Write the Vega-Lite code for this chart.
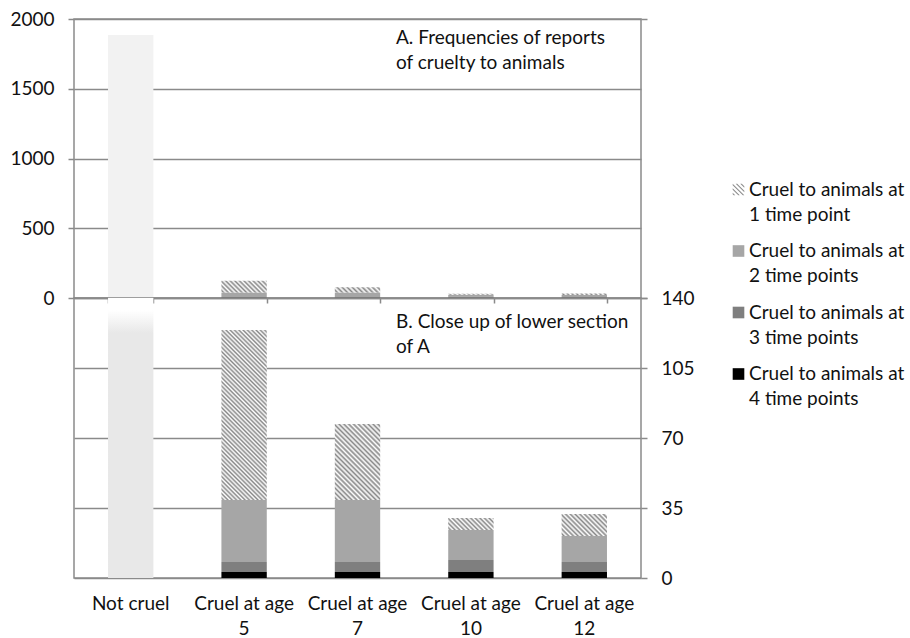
{
  "$schema": "https://vega.github.io/schema/vega-lite/v6.json",
  "background": "white",
  "padding": {"left": 9, "top": 9, "right": 0, "bottom": 0},
  "spacing": 0,
  "bounds": "flush",
  "config": {
    "font": "Lato",
    "view": {"stroke": "#8a8a8a", "strokeWidth": 1.5},
    "style": {"guide-label": {"lineHeight": 25}},
    "axis": {"labelFont": "Lato", "labelFontSize": 19, "labelColor": "#111111", "gridColor": "#8a8a8a", "gridWidth": 1.5, "gridOpacity": 1, "tickColor": "#8a8a8a", "tickWidth": 1.5, "domain": false, "title": null},
    "legend": {"labelFont": "Lato", "labelFontSize": 19, "labelColor": "#111111"}
  },
  "datasets": {
    "notcruel": [{"cat": "Not cruel", "n": 1885}],
    "cruel": [
      {"cat": "Cruel at age 5", "series": "Cruel to animals at 1 time point", "n": 85},
      {"cat": "Cruel at age 5", "series": "Cruel to animals at 2 time points", "n": 31},
      {"cat": "Cruel at age 5", "series": "Cruel to animals at 3 time points", "n": 5},
      {"cat": "Cruel at age 5", "series": "Cruel to animals at 4 time points", "n": 3},
      {"cat": "Cruel at age 7", "series": "Cruel to animals at 1 time point", "n": 38},
      {"cat": "Cruel at age 7", "series": "Cruel to animals at 2 time points", "n": 31},
      {"cat": "Cruel at age 7", "series": "Cruel to animals at 3 time points", "n": 5},
      {"cat": "Cruel at age 7", "series": "Cruel to animals at 4 time points", "n": 3},
      {"cat": "Cruel at age 10", "series": "Cruel to animals at 1 time point", "n": 6},
      {"cat": "Cruel at age 10", "series": "Cruel to animals at 2 time points", "n": 15},
      {"cat": "Cruel at age 10", "series": "Cruel to animals at 3 time points", "n": 6},
      {"cat": "Cruel at age 10", "series": "Cruel to animals at 4 time points", "n": 3},
      {"cat": "Cruel at age 12", "series": "Cruel to animals at 1 time point", "n": 11},
      {"cat": "Cruel at age 12", "series": "Cruel to animals at 2 time points", "n": 13},
      {"cat": "Cruel at age 12", "series": "Cruel to animals at 3 time points", "n": 5},
      {"cat": "Cruel at age 12", "series": "Cruel to animals at 4 time points", "n": 3}
    ]
  },
  "resolve": {"scale": {"fill": "independent"}, "legend": {"fill": "independent"}},
  "vconcat": [
    {
      "width": 567,
      "height": 279,
      "resolve": {"scale": {"y": "independent"}},
      "layer": [
        {
          "data": {"name": "notcruel"},
          "mark": {"type": "bar", "fill": "#f2f2f2"},
          "encoding": {
            "x": {"field": "cat", "type": "nominal", "scale": {"domain": ["Not cruel", "Cruel at age 5", "Cruel at age 7", "Cruel at age 10", "Cruel at age 12"], "paddingInner": 0.6, "paddingOuter": 0.3}, "axis": {"labels": false, "ticks": true, "tickBand": "extent", "tickSize": 5, "domain": false, "grid": false}},
            "y": {"field": "n", "type": "quantitative", "scale": {"domain": [0, 2000], "nice": false}, "axis": {"orient": "left", "values": [0, 500, 1000, 1500, 2000], "format": "d", "grid": true, "tickSize": 6, "labelPadding": 14}}
          }
        },
        {
          "data": {"name": "cruel"},
          "transform": [
            {"stack": "n", "groupby": ["cat"], "sort": [{"field": "series", "order": "descending"}], "as": ["y0", "y1"]},
            {"filter": "datum.series != 'Cruel to animals at 1 time point'"}
          ],
          "mark": {"type": "bar"},
          "encoding": {
            "x": {"field": "cat", "type": "nominal", "scale": {"domain": ["Not cruel", "Cruel at age 5", "Cruel at age 7", "Cruel at age 10", "Cruel at age 12"], "paddingInner": 0.6, "paddingOuter": 0.3}},
            "y": {"field": "y1", "type": "quantitative", "scale": {"domain": [0, 2000], "nice": false}, "axis": {"orient": "right", "values": [0, 2000], "labels": false, "grid": false, "tickSize": 6}},
            "y2": {"field": "y0"},
            "fill": {
              "field": "series",
              "type": "nominal",
              "scale": {
                "domain": ["Cruel to animals at 1 time point", "Cruel to animals at 2 time points", "Cruel to animals at 3 time points", "Cruel to animals at 4 time points"],
                "range": ["#8c8c8c", "#a6a6a6", "#7f7f7f", "#000000"]
              },
              "legend": {
                "orient": "none", "legendX": 655, "legendY": 161, "title": null,
                "symbolType": {"expr": "datum.value == 'Cruel to animals at 1 time point' ? 'M-1,-1L1,1L0.74,1L-1,-0.74Z M-1,-0.22L0.22,1L-0.04,1L-1,0.04Z M-1,0.56L-0.56,1L-0.82,1L-1,0.82Z M-0.22,-1L1,0.22L1,0.48L-0.48,-1Z M0.56,-1L1,-0.56L1,-0.3L0.3,-1Z' : 'square'"},
                "symbolSize": 135, "symbolStrokeWidth": 0, "symbolOpacity": 1,
                "labelExpr": "['Cruel to animals at', slice(datum.label, 20)]",
                "rowPadding": 16.5, "padding": 0, "labelOffset": 1, "labelLimit": 300
              }
            }
          }
        },
        {
          "data": {"name": "cruel"},
          "transform": [
            {"stack": "n", "groupby": ["cat"], "sort": [{"field": "series", "order": "descending"}], "as": ["y0", "y1"]},
            {"filter": "datum.series == 'Cruel to animals at 1 time point' && datum.cat == 'Cruel at age 5'"}
          ],
          "mark": {"type": "bar", "fill": {"gradient": "linear", "x1": 0, "y1": 1, "x2": 1.1808, "y2": 0.6913, "stops": [{"offset":0,"color":"#fff"},{"offset":0.04,"color":"#888"},{"offset":0.08,"color":"#fff"},{"offset":0.12,"color":"#888"},{"offset":0.16,"color":"#fff"},{"offset":0.2,"color":"#888"},{"offset":0.24,"color":"#fff"},{"offset":0.28,"color":"#888"},{"offset":0.32,"color":"#fff"},{"offset":0.36,"color":"#888"},{"offset":0.4,"color":"#fff"},{"offset":0.44,"color":"#888"},{"offset":0.48,"color":"#fff"},{"offset":0.52,"color":"#888"},{"offset":0.56,"color":"#fff"},{"offset":0.6,"color":"#888"},{"offset":0.64,"color":"#fff"},{"offset":0.68,"color":"#888"},{"offset":0.72,"color":"#fff"},{"offset":0.76,"color":"#888"},{"offset":0.8,"color":"#fff"},{"offset":0.84,"color":"#888"},{"offset":0.88,"color":"#fff"},{"offset":0.92,"color":"#888"},{"offset":0.96,"color":"#fff"},{"offset":1,"color":"#888"}]}},
          "encoding": {
            "x": {"field": "cat", "type": "nominal", "scale": {"domain": ["Not cruel", "Cruel at age 5", "Cruel at age 7", "Cruel at age 10", "Cruel at age 12"], "paddingInner": 0.6, "paddingOuter": 0.3}},
            "y": {"field": "y1", "type": "quantitative", "scale": {"domain": [0, 2000], "nice": false}, "axis": null},
            "y2": {"field": "y0"}
          }
        },
        {
          "data": {"name": "cruel"},
          "transform": [
            {"stack": "n", "groupby": ["cat"], "sort": [{"field": "series", "order": "descending"}], "as": ["y0", "y1"]},
            {"filter": "datum.series == 'Cruel to animals at 1 time point' && datum.cat == 'Cruel at age 7'"}
          ],
          "mark": {"type": "bar", "fill": {"gradient": "linear", "x1": 0, "y1": 1, "x2": 1.1018, "y2": 0.8713, "stops": [{"offset":0,"color":"#fff"},{"offset":0.05,"color":"#888"},{"offset":0.1,"color":"#fff"},{"offset":0.15,"color":"#888"},{"offset":0.2,"color":"#fff"},{"offset":0.25,"color":"#888"},{"offset":0.3,"color":"#fff"},{"offset":0.35,"color":"#888"},{"offset":0.4,"color":"#fff"},{"offset":0.45,"color":"#888"},{"offset":0.5,"color":"#fff"},{"offset":0.55,"color":"#888"},{"offset":0.6,"color":"#fff"},{"offset":0.65,"color":"#888"},{"offset":0.7,"color":"#fff"},{"offset":0.75,"color":"#888"},{"offset":0.8,"color":"#fff"},{"offset":0.85,"color":"#888"},{"offset":0.9,"color":"#fff"},{"offset":0.95,"color":"#888"},{"offset":1,"color":"#fff"}]}},
          "encoding": {
            "x": {"field": "cat", "type": "nominal", "scale": {"domain": ["Not cruel", "Cruel at age 5", "Cruel at age 7", "Cruel at age 10", "Cruel at age 12"], "paddingInner": 0.6, "paddingOuter": 0.3}},
            "y": {"field": "y1", "type": "quantitative", "scale": {"domain": [0, 2000], "nice": false}, "axis": null},
            "y2": {"field": "y0"}
          }
        },
        {
          "data": {"name": "cruel"},
          "transform": [
            {"stack": "n", "groupby": ["cat"], "sort": [{"field": "series", "order": "descending"}], "as": ["y0", "y1"]},
            {"filter": "datum.series == 'Cruel to animals at 1 time point' && (datum.cat == 'Cruel at age 10' || datum.cat == 'Cruel at age 12')"}
          ],
          "mark": {"type": "bar", "fill": {"gradient": "linear", "x1": 0, "y1": 1, "x2": 1.025, "y2": 0.973, "stops": [{"offset":0,"color":"#fff"},{"offset":0.05,"color":"#888"},{"offset":0.1,"color":"#fff"},{"offset":0.15,"color":"#888"},{"offset":0.2,"color":"#fff"},{"offset":0.25,"color":"#888"},{"offset":0.3,"color":"#fff"},{"offset":0.35,"color":"#888"},{"offset":0.4,"color":"#fff"},{"offset":0.45,"color":"#888"},{"offset":0.5,"color":"#fff"},{"offset":0.55,"color":"#888"},{"offset":0.6,"color":"#fff"},{"offset":0.65,"color":"#888"},{"offset":0.7,"color":"#fff"},{"offset":0.75,"color":"#888"},{"offset":0.8,"color":"#fff"},{"offset":0.85,"color":"#888"},{"offset":0.9,"color":"#fff"},{"offset":0.95,"color":"#888"},{"offset":1,"color":"#fff"}]}},
          "encoding": {
            "x": {"field": "cat", "type": "nominal", "scale": {"domain": ["Not cruel", "Cruel at age 5", "Cruel at age 7", "Cruel at age 10", "Cruel at age 12"], "paddingInner": 0.6, "paddingOuter": 0.3}},
            "y": {"field": "y1", "type": "quantitative", "scale": {"domain": [0, 2000], "nice": false}, "axis": null},
            "y2": {"field": "y0"}
          }
        },
        {
          "data": {"values": [{}]},
          "mark": {"type": "text", "text": ["A. Frequencies of reports", "\u00a0of cruelty to animals"], "align": "left", "baseline": "middle", "lineHeight": 25, "fontSize": 19, "font": "Lato", "color": "#111111", "dx": 38.5},
          "encoding": {
            "x": {"datum": "Cruel at age 7", "type": "nominal", "scale": {"domain": ["Not cruel", "Cruel at age 5", "Cruel at age 7", "Cruel at age 10", "Cruel at age 12"], "paddingInner": 0.6, "paddingOuter": 0.3}},
            "y": {"datum": 1864, "type": "quantitative", "scale": {"domain": [0, 2000], "nice": false}, "axis": null}
          }
        }
      ]
    },
    {
      "width": 567,
      "height": 280,
      "layer": [
        {
          "data": {"name": "notcruel"},
          "mark": {"type": "bar", "clip": true, "fill": {"gradient": "linear", "x1": 0, "y1": 0, "x2": 0, "y2": 1, "stops": [{"offset": 0, "color": "#ffffff"}, {"offset": 0.929, "color": "#ffffff"}, {"offset": 0.935, "color": "#e8e8e8"}, {"offset": 1, "color": "#e8e8e8"}]}},
          "encoding": {
            "x": {"field": "cat", "type": "nominal", "scale": {"domain": ["Not cruel", "Cruel at age 5", "Cruel at age 7", "Cruel at age 10", "Cruel at age 12"], "paddingInner": 0.6, "paddingOuter": 0.3}, "axis": {"labelAngle": 0, "ticks": false, "tickSize": 0, "labelPadding": 16, "labelOverlap": false, "labelLineHeight": 25, "grid": false, "labelExpr": "datum.label == 'Not cruel' ? datum.label : ['Cruel at age', slice(datum.label, 13)]"}},
            "y": {"field": "n", "type": "quantitative", "scale": {"domain": [0, 140], "nice": false}, "axis": {"orient": "right", "values": [0, 35, 70, 105, 140], "format": "d", "grid": true, "tickSize": 6, "labelPadding": 14}}
          }
        },
        {
          "data": {"name": "cruel"},
          "transform": [
            {"stack": "n", "groupby": ["cat"], "sort": [{"field": "series", "order": "descending"}], "as": ["y0", "y1"]},
            {"filter": "datum.series != 'Cruel to animals at 1 time point'"}
          ],
          "mark": {"type": "bar"},
          "encoding": {
            "x": {"field": "cat", "type": "nominal", "scale": {"domain": ["Not cruel", "Cruel at age 5", "Cruel at age 7", "Cruel at age 10", "Cruel at age 12"], "paddingInner": 0.6, "paddingOuter": 0.3}},
            "y": {"field": "y1", "type": "quantitative", "scale": {"domain": [0, 140], "nice": false}},
            "y2": {"field": "y0"},
            "fill": {"field": "series", "type": "nominal", "legend": null, "scale": {"domain": ["Cruel to animals at 2 time points", "Cruel to animals at 3 time points", "Cruel to animals at 4 time points"], "range": ["#a6a6a6", "#7f7f7f", "#000000"]}}
          }
        },
        {
          "data": {"name": "cruel"},
          "transform": [
            {"stack": "n", "groupby": ["cat"], "sort": [{"field": "series", "order": "descending"}], "as": ["y0", "y1"]},
            {"filter": "datum.series == 'Cruel to animals at 1 time point' && datum.cat == 'Cruel at age 5'"}
          ],
          "mark": {"type": "bar", "fill": {"gradient": "linear", "x1": 0, "y1": 1, "x2": 0.3156, "y2": -0.1826, "stops": [{"offset":0,"color":"#fff"},{"offset":0.01,"color":"#888"},{"offset":0.02,"color":"#fff"},{"offset":0.03,"color":"#888"},{"offset":0.04,"color":"#fff"},{"offset":0.05,"color":"#888"},{"offset":0.06,"color":"#fff"},{"offset":0.07,"color":"#888"},{"offset":0.08,"color":"#fff"},{"offset":0.09,"color":"#888"},{"offset":0.1,"color":"#fff"},{"offset":0.11,"color":"#888"},{"offset":0.12,"color":"#fff"},{"offset":0.13,"color":"#888"},{"offset":0.14,"color":"#fff"},{"offset":0.15,"color":"#888"},{"offset":0.16,"color":"#fff"},{"offset":0.17,"color":"#888"},{"offset":0.18,"color":"#fff"},{"offset":0.19,"color":"#888"},{"offset":0.2,"color":"#fff"},{"offset":0.21,"color":"#888"},{"offset":0.22,"color":"#fff"},{"offset":0.23,"color":"#888"},{"offset":0.24,"color":"#fff"},{"offset":0.25,"color":"#888"},{"offset":0.26,"color":"#fff"},{"offset":0.27,"color":"#888"},{"offset":0.28,"color":"#fff"},{"offset":0.29,"color":"#888"},{"offset":0.3,"color":"#fff"},{"offset":0.31,"color":"#888"},{"offset":0.32,"color":"#fff"},{"offset":0.33,"color":"#888"},{"offset":0.34,"color":"#fff"},{"offset":0.35,"color":"#888"},{"offset":0.36,"color":"#fff"},{"offset":0.37,"color":"#888"},{"offset":0.38,"color":"#fff"},{"offset":0.39,"color":"#888"},{"offset":0.4,"color":"#fff"},{"offset":0.41,"color":"#888"},{"offset":0.42,"color":"#fff"},{"offset":0.43,"color":"#888"},{"offset":0.44,"color":"#fff"},{"offset":0.45,"color":"#888"},{"offset":0.46,"color":"#fff"},{"offset":0.47,"color":"#888"},{"offset":0.48,"color":"#fff"},{"offset":0.49,"color":"#888"},{"offset":0.5,"color":"#fff"},{"offset":0.51,"color":"#888"},{"offset":0.52,"color":"#fff"},{"offset":0.53,"color":"#888"},{"offset":0.54,"color":"#fff"},{"offset":0.55,"color":"#888"},{"offset":0.56,"color":"#fff"},{"offset":0.57,"color":"#888"},{"offset":0.58,"color":"#fff"},{"offset":0.59,"color":"#888"},{"offset":0.6,"color":"#fff"},{"offset":0.61,"color":"#888"},{"offset":0.62,"color":"#fff"},{"offset":0.63,"color":"#888"},{"offset":0.64,"color":"#fff"},{"offset":0.65,"color":"#888"},{"offset":0.66,"color":"#fff"},{"offset":0.67,"color":"#888"},{"offset":0.68,"color":"#fff"},{"offset":0.69,"color":"#888"},{"offset":0.7,"color":"#fff"},{"offset":0.71,"color":"#888"},{"offset":0.72,"color":"#fff"},{"offset":0.73,"color":"#888"},{"offset":0.74,"color":"#fff"},{"offset":0.75,"color":"#888"},{"offset":0.76,"color":"#fff"},{"offset":0.77,"color":"#888"},{"offset":0.78,"color":"#fff"},{"offset":0.79,"color":"#888"},{"offset":0.8,"color":"#fff"},{"offset":0.81,"color":"#888"},{"offset":0.82,"color":"#fff"},{"offset":0.83,"color":"#888"},{"offset":0.84,"color":"#fff"},{"offset":0.85,"color":"#888"},{"offset":0.86,"color":"#fff"},{"offset":0.87,"color":"#888"},{"offset":0.88,"color":"#fff"},{"offset":0.89,"color":"#888"},{"offset":0.9,"color":"#fff"},{"offset":0.91,"color":"#888"},{"offset":0.92,"color":"#fff"},{"offset":0.93,"color":"#888"},{"offset":0.94,"color":"#fff"},{"offset":0.95,"color":"#888"},{"offset":0.96,"color":"#fff"},{"offset":0.97,"color":"#888"},{"offset":0.98,"color":"#fff"},{"offset":0.99,"color":"#888"},{"offset":1,"color":"#fff"}]}},
          "encoding": {
            "x": {"field": "cat", "type": "nominal", "scale": {"domain": ["Not cruel", "Cruel at age 5", "Cruel at age 7", "Cruel at age 10", "Cruel at age 12"], "paddingInner": 0.6, "paddingOuter": 0.3}},
            "y": {"field": "y1", "type": "quantitative", "scale": {"domain": [0, 140], "nice": false}},
            "y2": {"field": "y0"}
          }
        },
        {
          "data": {"name": "cruel"},
          "transform": [
            {"stack": "n", "groupby": ["cat"], "sort": [{"field": "series", "order": "descending"}], "as": ["y0", "y1"]},
            {"filter": "datum.series == 'Cruel to animals at 1 time point' && datum.cat == 'Cruel at age 7'"}
          ],
          "mark": {"type": "bar", "fill": {"gradient": "linear", "x1": 0, "y1": 1, "x2": 0.7027, "y2": -0.1774, "stops": [{"offset":0,"color":"#fff"},{"offset":0.02,"color":"#888"},{"offset":0.04,"color":"#fff"},{"offset":0.06,"color":"#888"},{"offset":0.08,"color":"#fff"},{"offset":0.1,"color":"#888"},{"offset":0.12,"color":"#fff"},{"offset":0.14,"color":"#888"},{"offset":0.16,"color":"#fff"},{"offset":0.18,"color":"#888"},{"offset":0.2,"color":"#fff"},{"offset":0.22,"color":"#888"},{"offset":0.24,"color":"#fff"},{"offset":0.26,"color":"#888"},{"offset":0.28,"color":"#fff"},{"offset":0.3,"color":"#888"},{"offset":0.32,"color":"#fff"},{"offset":0.34,"color":"#888"},{"offset":0.36,"color":"#fff"},{"offset":0.38,"color":"#888"},{"offset":0.4,"color":"#fff"},{"offset":0.42,"color":"#888"},{"offset":0.44,"color":"#fff"},{"offset":0.46,"color":"#888"},{"offset":0.48,"color":"#fff"},{"offset":0.5,"color":"#888"},{"offset":0.52,"color":"#fff"},{"offset":0.54,"color":"#888"},{"offset":0.56,"color":"#fff"},{"offset":0.58,"color":"#888"},{"offset":0.6,"color":"#fff"},{"offset":0.62,"color":"#888"},{"offset":0.64,"color":"#fff"},{"offset":0.66,"color":"#888"},{"offset":0.68,"color":"#fff"},{"offset":0.7,"color":"#888"},{"offset":0.72,"color":"#fff"},{"offset":0.74,"color":"#888"},{"offset":0.76,"color":"#fff"},{"offset":0.78,"color":"#888"},{"offset":0.8,"color":"#fff"},{"offset":0.82,"color":"#888"},{"offset":0.84,"color":"#fff"},{"offset":0.86,"color":"#888"},{"offset":0.88,"color":"#fff"},{"offset":0.9,"color":"#888"},{"offset":0.92,"color":"#fff"},{"offset":0.94,"color":"#888"},{"offset":0.96,"color":"#fff"},{"offset":0.98,"color":"#888"},{"offset":1,"color":"#fff"}]}},
          "encoding": {
            "x": {"field": "cat", "type": "nominal", "scale": {"domain": ["Not cruel", "Cruel at age 5", "Cruel at age 7", "Cruel at age 10", "Cruel at age 12"], "paddingInner": 0.6, "paddingOuter": 0.3}},
            "y": {"field": "y1", "type": "quantitative", "scale": {"domain": [0, 140], "nice": false}},
            "y2": {"field": "y0"}
          }
        },
        {
          "data": {"name": "cruel"},
          "transform": [
            {"stack": "n", "groupby": ["cat"], "sort": [{"field": "series", "order": "descending"}], "as": ["y0", "y1"]},
            {"filter": "datum.series == 'Cruel to animals at 1 time point' && datum.cat == 'Cruel at age 10'"}
          ],
          "mark": {"type": "bar", "fill": {"gradient": "linear", "x1": 0, "y1": 1, "x2": 1.1819, "y2": 0.6873, "stops": [{"offset":0,"color":"#fff"},{"offset":0.04,"color":"#888"},{"offset":0.08,"color":"#fff"},{"offset":0.12,"color":"#888"},{"offset":0.16,"color":"#fff"},{"offset":0.2,"color":"#888"},{"offset":0.24,"color":"#fff"},{"offset":0.28,"color":"#888"},{"offset":0.32,"color":"#fff"},{"offset":0.36,"color":"#888"},{"offset":0.4,"color":"#fff"},{"offset":0.44,"color":"#888"},{"offset":0.48,"color":"#fff"},{"offset":0.52,"color":"#888"},{"offset":0.56,"color":"#fff"},{"offset":0.6,"color":"#888"},{"offset":0.64,"color":"#fff"},{"offset":0.68,"color":"#888"},{"offset":0.72,"color":"#fff"},{"offset":0.76,"color":"#888"},{"offset":0.8,"color":"#fff"},{"offset":0.84,"color":"#888"},{"offset":0.88,"color":"#fff"},{"offset":0.92,"color":"#888"},{"offset":0.96,"color":"#fff"},{"offset":1,"color":"#888"}]}},
          "encoding": {
            "x": {"field": "cat", "type": "nominal", "scale": {"domain": ["Not cruel", "Cruel at age 5", "Cruel at age 7", "Cruel at age 10", "Cruel at age 12"], "paddingInner": 0.6, "paddingOuter": 0.3}},
            "y": {"field": "y1", "type": "quantitative", "scale": {"domain": [0, 140], "nice": false}},
            "y2": {"field": "y0"}
          }
        },
        {
          "data": {"name": "cruel"},
          "transform": [
            {"stack": "n", "groupby": ["cat"], "sort": [{"field": "series", "order": "descending"}], "as": ["y0", "y1"]},
            {"filter": "datum.series == 'Cruel to animals at 1 time point' && datum.cat == 'Cruel at age 12'"}
          ],
          "mark": {"type": "bar", "fill": {"gradient": "linear", "x1": 0, "y1": 1, "x2": 1.2022, "y2": 0.4169, "stops": [{"offset":0,"color":"#fff"},{"offset":0.035,"color":"#888"},{"offset":0.07,"color":"#fff"},{"offset":0.105,"color":"#888"},{"offset":0.14,"color":"#fff"},{"offset":0.175,"color":"#888"},{"offset":0.21,"color":"#fff"},{"offset":0.245,"color":"#888"},{"offset":0.28,"color":"#fff"},{"offset":0.315,"color":"#888"},{"offset":0.35,"color":"#fff"},{"offset":0.385,"color":"#888"},{"offset":0.42,"color":"#fff"},{"offset":0.455,"color":"#888"},{"offset":0.49,"color":"#fff"},{"offset":0.525,"color":"#888"},{"offset":0.56,"color":"#fff"},{"offset":0.595,"color":"#888"},{"offset":0.63,"color":"#fff"},{"offset":0.665,"color":"#888"},{"offset":0.7,"color":"#fff"},{"offset":0.735,"color":"#888"},{"offset":0.77,"color":"#fff"},{"offset":0.805,"color":"#888"},{"offset":0.84,"color":"#fff"},{"offset":0.875,"color":"#888"},{"offset":0.91,"color":"#fff"},{"offset":0.945,"color":"#888"},{"offset":0.98,"color":"#fff"}]}},
          "encoding": {
            "x": {"field": "cat", "type": "nominal", "scale": {"domain": ["Not cruel", "Cruel at age 5", "Cruel at age 7", "Cruel at age 10", "Cruel at age 12"], "paddingInner": 0.6, "paddingOuter": 0.3}},
            "y": {"field": "y1", "type": "quantitative", "scale": {"domain": [0, 140], "nice": false}},
            "y2": {"field": "y0"}
          }
        },
        {
          "data": {"values": [{}]},
          "mark": {"type": "text", "text": ["B. Close up of lower section", "\u00a0of A"], "align": "left", "baseline": "middle", "lineHeight": 25, "fontSize": 19, "font": "Lato", "color": "#111111", "dx": 38.5},
          "encoding": {
            "x": {"datum": "Cruel at age 7", "type": "nominal", "scale": {"domain": ["Not cruel", "Cruel at age 5", "Cruel at age 7", "Cruel at age 10", "Cruel at age 12"], "paddingInner": 0.6, "paddingOuter": 0.3}},
            "y": {"datum": 128, "type": "quantitative", "scale": {"domain": [0, 140], "nice": false}}
          }
        }
      ]
    }
  ]
}
